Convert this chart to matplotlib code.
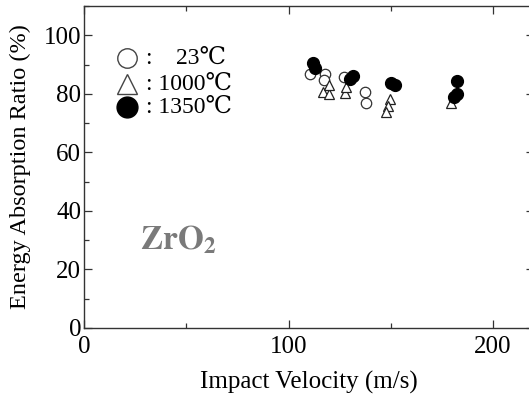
import matplotlib
matplotlib.use("Agg")
import matplotlib.pyplot as plt
from matplotlib.ticker import MultipleLocator

plt.rcParams['font.family'] = ['Liberation Serif', 'DejaVu Serif']
plt.rcParams['mathtext.fontset'] = 'stix'

# data: impact velocity (m/s) vs energy absorption ratio (%)
v_23 = [110.3, 117.6, 117.3, 127.0, 137.2, 138.0]
e_23 = [86.6, 86.6, 84.7, 85.8, 80.6, 76.7]

v_1000 = [116.8, 119.6, 120.0, 127.4, 128.2, 149.4, 148.6, 147.8, 179.5]
e_1000 = [80.6, 79.8, 82.9, 80.4, 82.4, 78.1, 75.8, 73.7, 77.0]

v_1350 = [111.9, 113.0, 129.8, 131.4, 150.2, 151.8, 182.3, 182.3, 180.7]
e_1350 = [90.4, 88.9, 85.2, 86.1, 83.8, 82.9, 84.4, 80.1, 79.0]

legend_labels = [":    23℃", ": 1000℃", ": 1350℃"]

W, H = 529, 394
fig = plt.figure(figsize=(W / 100, H / 100), dpi=100)
ax = fig.add_axes([84 / W, (H - 328) / H, 450 / W, 322 / H])

ax.plot(v_23, e_23, linestyle='none', marker='o', ms=7.5, mfc='white', mec='#333333', mew=0.9)
ax.plot(v_1000, e_1000, linestyle='none', marker='^', ms=7.5, mfc='white', mec='#222222', mew=0.9)
ax.plot(v_1350, e_1350, linestyle='none', marker='o', ms=8.5, mfc='black', mec='black')

ax.set_xlim(0, 220)
ax.set_ylim(0, 110)
ax.xaxis.set_major_locator(MultipleLocator(100))
ax.xaxis.set_minor_locator(MultipleLocator(50))
ax.yaxis.set_major_locator(MultipleLocator(20))
ax.yaxis.set_minor_locator(MultipleLocator(10))
ax.tick_params(which='both', direction='in', top=True, right=True, labelsize=18, color='#333333', width=0.9, pad=2)
ax.tick_params(axis='x', which='both', pad=6)
ax.tick_params(which='major', length=6)
ax.tick_params(which='minor', length=3.5)
for s in ax.spines.values():
    s.set_color('#333333')
    s.set_linewidth(1.0)

ax.set_xlabel('Impact Velocity (m/s)', fontsize=18, labelpad=9)
ax.set_ylabel('Energy Absorption Ratio (%)', fontsize=17.5, labelpad=9)

# legend drawn manually
ys = [(328 - 58) / 322, (328 - 84) / 322, (328 - 107) / 322]
xm = (127 - 84) / 450
ax.plot([xm], [ys[0]], transform=ax.transAxes, marker='o', ms=14, mfc='white', mec='#444444', mew=1.0, clip_on=False)
ax.plot([xm], [ys[1]], transform=ax.transAxes, marker='^', ms=14, mfc='white', mec='#444444', mew=1.0, clip_on=False)
ax.plot([xm], [ys[2]], transform=ax.transAxes, marker='o', ms=15, mfc='black', mec='black', clip_on=False)
for y, lab in zip(ys, legend_labels):
    ax.text((146 - 84) / 450, y, lab, transform=ax.transAxes, fontsize=17, va='center', ha='left')

ax.text((140 - 84) / 450, (328 - 240) / 322, r'$\mathbf{ZrO_2}$', transform=ax.transAxes,
        fontsize=24, color='#7a7a7a', va='center', ha='left')

fig.savefig('out.png', dpi=100)
